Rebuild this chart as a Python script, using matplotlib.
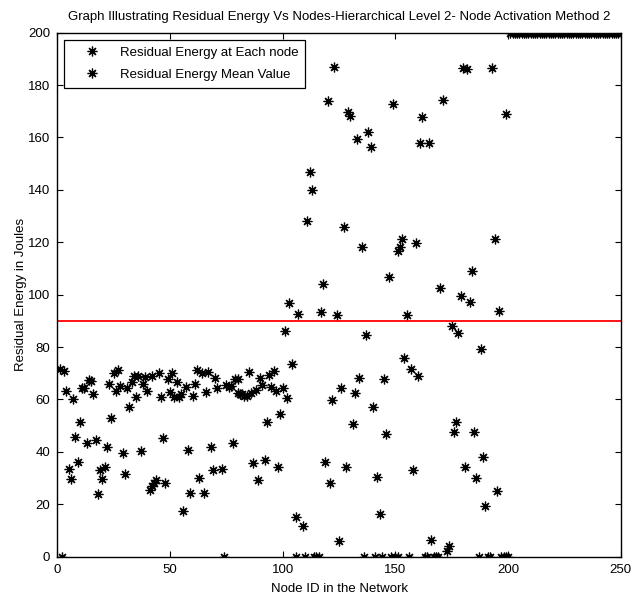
import numpy as np
import matplotlib
import matplotlib.pyplot as plt

matplotlib.use('Agg')  # no display

#node ids and residual energy (nodes 1-200)
node_ids = [1, 2, 3, 4, 5, 6, 7, 8, 9, 10, 11, 12, 13, 14, 15, 16, 17, 18, 19, 20,
            21, 22, 23, 24, 25, 26, 27, 28, 29, 30, 31, 32, 33, 34, 35, 36, 37, 38, 39, 40,
            41, 42, 42, 43, 44, 45, 46, 47, 48, 49, 50, 51, 52, 53, 54, 55, 56, 57, 58, 59,
            60, 61, 62, 63, 64, 65, 66, 67, 68, 69, 70, 71, 73, 74, 75, 76, 77, 78, 79, 80,
            80, 81, 82, 83, 84, 85, 86, 87, 88, 89, 90, 91, 92, 93, 94, 95, 96, 97, 98, 99,
            100, 101, 102, 103, 104, 106, 106, 107, 109, 110, 111, 112, 113, 114, 115, 116,
            117, 118, 119, 120, 121, 122, 123, 124, 125, 126, 127, 128, 129, 130, 131, 132,
            133, 134, 135, 136, 137, 138, 139, 140, 141, 142, 143, 144, 145, 146, 147, 148,
            149, 150, 151, 151, 152, 153, 154, 155, 156, 157, 158, 159, 160, 161, 162, 163,
            164, 165, 166, 167, 168, 169, 170, 171, 173, 174, 175, 176, 177, 178, 179, 180,
            181, 182, 183, 184, 185, 186, 187, 188, 189, 190, 191, 192, 193, 194, 195, 196,
            197, 198, 199, 199, 200]
residual_energy = [71.5, 0, 71, 63.4, 33.3, 29.5, 60, 45.8, 36.3, 51.5, 64.3, 64.3, 43.5, 67.4, 67, 62, 44.5, 23.8, 33, 29.7,
                   34.1, 42, 65.8, 53, 70, 63.2, 71.3, 65.1, 39.7, 31.4, 64.3, 57, 66.8, 69.1, 61, 69, 40.3, 65.8, 68.5, 63.4,
                   25.5, 69, 27, 28, 29.4, 70, 61, 45.4, 28, 67.8, 62.7, 70.3, 61, 66.8, 61, 62, 17.4, 64.6, 40.7, 24.2,
                   61.3, 65.8, 71.3, 29.9, 70.2, 24.2, 63, 70.6, 42, 33, 68.3, 64.5, 33.3, 0, 65.5, 64.6, 65, 43.3, 67.7, 62.3,
                   67.7, 62, 62, 61.4, 61.3, 70.6, 62.3, 35.9, 63.7, 29.2, 68.3, 65.5, 36.9, 51.5, 69.4, 64.6, 71, 63.4, 34.1, 54.5,
                   64.5, 86.3, 60.4, 96.7, 73.5, 0, 15.3, 92.6, 11.7, 0, 128.1, 147, 140, 0, 0, 0,
                   93.3, 104, 36.3, 174, 28.3, 59.8, 186.8, 92.3, 6, 64.5, 125.7, 34.3, 169.9, 168.2, 50.5, 62.3,
                   159.3, 68.3, 118.3, 0, 84.6, 162.2, 156.3, 57.2, 0, 30.5, 16.2, 0, 67.8, 46.7, 106.9, 0,
                   172.8, 0, 0, 116.8, 118.3, 121.1, 75.9, 92.1, 0, 71.6, 33, 119.8, 69.1, 157.8, 167.7, 0,
                   0, 157.8, 6.4, 0, 0, 0, 102.4, 174.5, 2.3, 4, 88, 47.5, 51.5, 85.2, 99.6, 186.4,
                   34.4, 186, 97.4, 109.2, 47.5, 30.2, 0, 79.3, 38.2, 19.4, 0, 0, 186.4, 121.1, 25, 93.7,
                   0, 0, 0, 169, 0]

#nodes 201-250 are all still at full energy
full_nodes = list(range(201, 251))
full_energy = [200] * len(full_nodes)

mean_energy = 90.0

x = np.array(node_ids + full_nodes)
y = np.array(residual_energy + full_energy)

plt.rcParams['font.family'] = ['Liberation Sans', 'DejaVu Sans']

fig = plt.figure(figsize=(6.33, 6.0), dpi=100)
ax = fig.add_axes([0.0905, 0.0722, 0.8901, 0.8733])

star = (8, 2, 0)
ax.plot(x, y, linestyle='none', marker=star, markersize=7, markeredgewidth=0.9,
        color='black', label='Residual Energy at Each node')
ax.axhline(mean_energy, color='red', linewidth=1.3, label='_nolegend_')
#matlab legend showed the star marker for both entries
ax.plot([], [], linestyle='none', marker=star, markersize=7, markeredgewidth=0.9,
        color='black', label='Residual Energy Mean Value')

ax.set_xlim(0, 250)
ax.set_ylim(0, 200)
ax.set_xticks(np.arange(0, 251, 50))
ax.set_yticks(np.arange(0, 201, 20))
ax.tick_params(direction='in', top=True, right=True, labelsize=9.5, length=4, width=0.8, pad=5)
for s in ax.spines.values():
    s.set_linewidth(1.0)

ax.set_title('Graph Illustrating Residual Energy Vs Nodes-Hierarchical Level 2- Node Activation Method 2',
             fontsize=9.5, pad=9)
ax.set_xlabel('Node ID in the Network', fontsize=9.5, labelpad=5)
ax.set_ylabel('Residual Energy in Joules', fontsize=9.5, labelpad=1)

leg = ax.legend(loc='upper left', bbox_to_anchor=(0.0124, 0.986), borderaxespad=0,
                fontsize=9.5, fancybox=False, edgecolor='black', framealpha=1,
                handlelength=3.2, handletextpad=0.5, borderpad=0.5, labelspacing=0.75)
leg.get_frame().set_linewidth(0.9)

plt.savefig('out.png', dpi=100)
plt.close()
